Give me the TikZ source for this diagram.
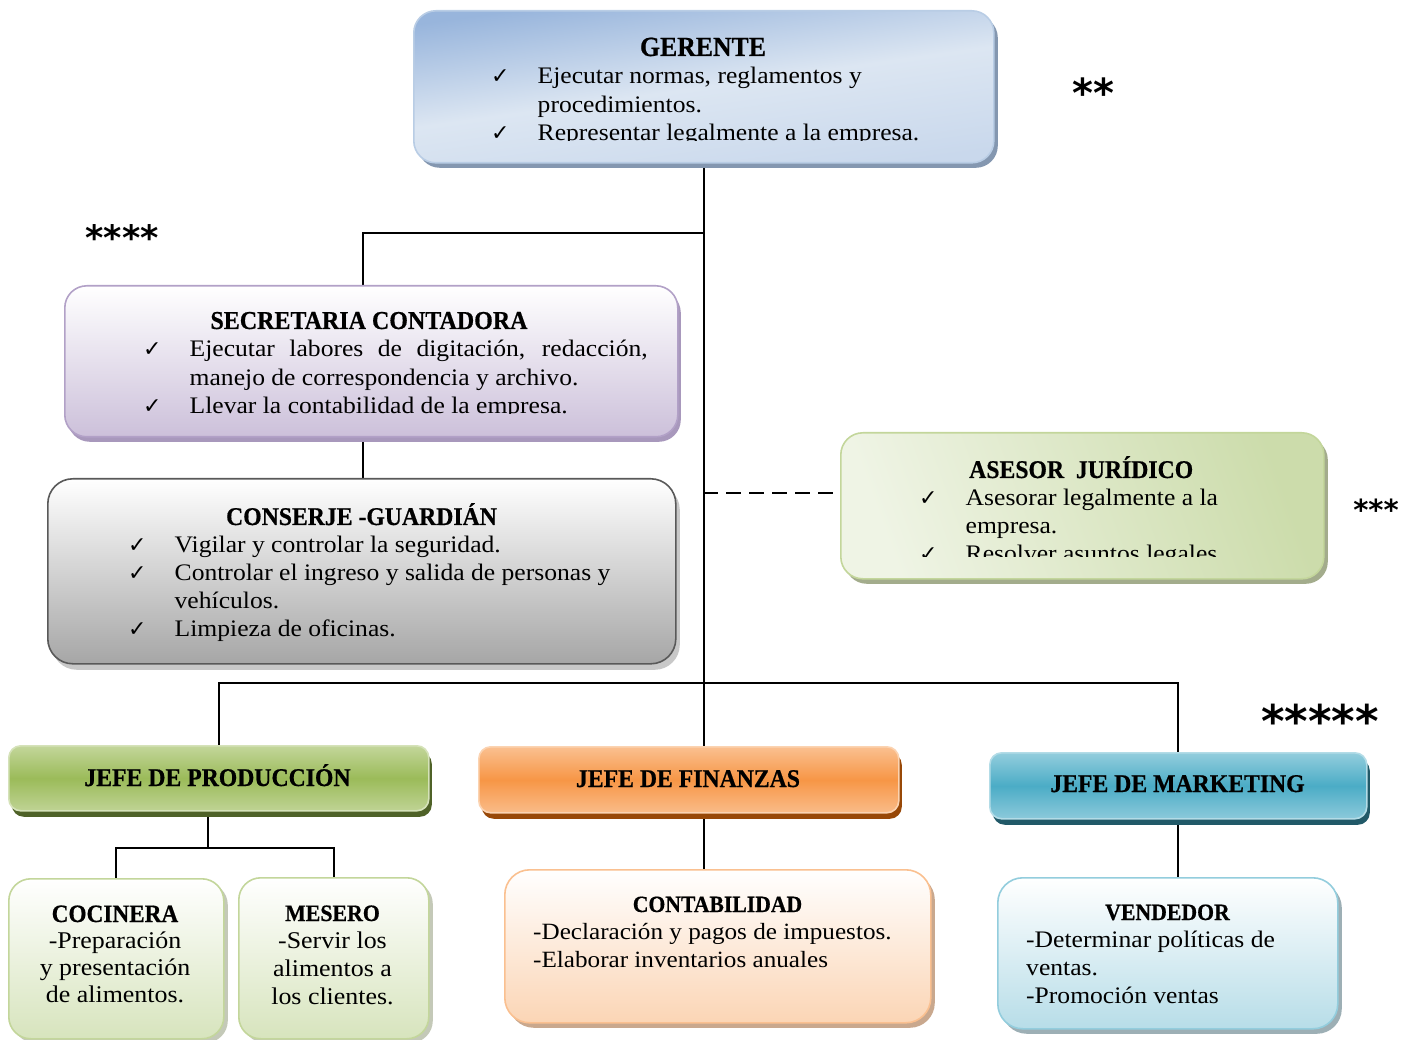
\documentclass[tikz,border=0pt]{standalone}
\usepackage{fontspec}
\setmainfont{Liberation Serif}
\newfontfamily\bodyf{Liberation Serif}[FakeStretch=1.08]
\newfontfamily\titf{Liberation Serif}[FakeStretch=0.93, FakeBold=0.6]
\newfontfamily\symf{DejaVu Sans}
\newfontfamily\astf{DejaVu Sans}
\usetikzlibrary{shadows}
\pgfdeclarelayer{bg}
\pgfsetlayers{bg,main}

% palette
\definecolor{gerTop}{HTML}{98B5DC}
\definecolor{gerMid}{HTML}{DCE6F2}
\definecolor{gerBot}{HTML}{C9D8EC}
\definecolor{gerLine}{HTML}{B9CDE5}
\definecolor{gerShd}{HTML}{8497B0}
\definecolor{secBot}{HTML}{CCC0DA}
\definecolor{secLine}{HTML}{B2A1C7}
\definecolor{secShd}{HTML}{A898BC}
\definecolor{conBot}{HTML}{A6A6A6}
\definecolor{conLine}{HTML}{595959}
\definecolor{conShd}{HTML}{C8C8C8}
\definecolor{aseL}{HTML}{EFF4E5}
\definecolor{aseR}{HTML}{CCDCAB}
\definecolor{aseLine}{HTML}{C3D69B}
\definecolor{aseShd}{HTML}{A3AC8C}
\definecolor{grnLt}{HTML}{C3D69B}
\definecolor{grnMd}{HTML}{9BBB59}
\definecolor{grnShd}{HTML}{4F6228}
\definecolor{orgLt}{HTML}{FAC090}
\definecolor{orgMd}{HTML}{F79646}
\definecolor{orgShd}{HTML}{984807}
\definecolor{bluLt}{HTML}{93CDDD}
\definecolor{bluMd}{HTML}{4BACC6}
\definecolor{bluShd}{HTML}{215968}
\definecolor{grnPale}{HTML}{D7E4BD}
\definecolor{grnPShd}{HTML}{C4C9B8}
\definecolor{orgPale}{HTML}{FBD5B5}
\definecolor{orgPShd}{HTML}{C9A88E}
\definecolor{bluPale}{HTML}{B7DDE8}
\definecolor{bluPShd}{HTML}{9DAFB5}

\newcommand\bodysize{\bodyf\fontsize{23.7}{28.3}\selectfont}
\newcommand\ckm{\makebox[46.5pt][l]{{\symf\fontsize{22}{22}\selectfont ✓}}}
\newcommand\ckind{\hspace*{46.5pt}}
\newcommand\tsz[1]{\titf\bfseries\fontsize{#1}{30}\selectfont}

\tikzset{
  card/.style={rectangle, rounded corners=#1, inner sep=0pt, anchor=north west, line width=1.6pt},
  card/.default=22pt,
  shd/.style n args={3}{drop shadow={shadow xshift=#1pt, shadow yshift=-#2pt, fill=#3, opacity=1}},
  conn/.style={line width=1.8pt, black},
  title/.style={font=\tsz{25.5}, inner sep=0pt, anchor=base},
  txt/.style={inner sep=0pt, anchor=base west},
  ast/.style={inner sep=0pt, anchor=base, font=\astf\bfseries}
}

\begin{document}
\begin{tikzpicture}[x=1pt, y=-1pt]
\useasboundingbox (0,0) rectangle (1417,1040);

% ---- boxes ----
\node[card, minimum width=580pt, minimum height=152pt, shd={4}{5}{gerShd},
      top color=gerTop, bottom color=gerBot, middle color=gerMid, shading angle=8, draw=gerLine]
      (ger) at (413,10) {};
\node[card, minimum width=613pt, minimum height=151pt, shd={3}{5}{secShd},
      top color=white, bottom color=secBot, draw=secLine]
      (sec) at (64,285) {};
\node[card=25pt, minimum width=628pt, minimum height=185pt, shd={4}{6}{conShd},
      top color=white, bottom color=conBot, draw=conLine]
      (con) at (47,478) {};
\node[card, minimum width=483pt, minimum height=146pt, shd={4}{5}{aseShd},
      left color=aseL, right color=aseR, shading angle=110, draw=aseLine]
      (ase) at (840,432) {};
\node[card=12pt, minimum width=420pt, minimum height=65pt, shd={3}{6}{grnShd},
      top color=grnLt, bottom color=grnLt!90!grnMd, middle color=grnMd, draw=grnLt!70!white]
      (prod) at (8,745) {};
\node[card=12pt, minimum width=420pt, minimum height=66pt, shd={3}{6}{orgShd},
      top color=orgLt, bottom color=orgLt!90!orgMd, middle color=orgMd, draw=orgLt!70!white]
      (fin) at (478,746) {};
\node[card=12pt, minimum width=377pt, minimum height=66pt, shd={3}{6}{bluShd},
      top color=bluLt, bottom color=bluLt!90!bluMd, middle color=bluMd, draw=bluLt!70!white]
      (mkt) at (989,752) {};
\node[card, minimum width=215pt, minimum height=160pt, shd={4}{4}{grnPShd},
      top color=white, bottom color=grnPale, draw=grnLt]
      (coc) at (8,878) {};
\node[card, minimum width=190pt, minimum height=161pt, shd={4}{4}{grnPShd},
      top color=white, bottom color=grnPale, draw=grnLt]
      (mes) at (238,877) {};
\node[card=25pt, minimum width=426pt, minimum height=153pt, shd={4}{5}{orgPShd},
      top color=white, bottom color=orgPale, draw=orgLt]
      (cont) at (504,869) {};
\node[card=25pt, minimum width=340pt, minimum height=151pt, shd={4}{5}{bluPShd},
      top color=white, bottom color=bluPale, draw=bluLt]
      (vend) at (997,877) {};

% ---- junction points ----
\coordinate (jsec) at (363,233);
\coordinate (jase) at (703,493);
\coordinate (hbar) at (0,683);
\coordinate (jprod) at (208,848);

% ---- connectors (behind the boxes) ----
\begin{pgfonlayer}{bg}
\draw[conn] (ger.south) -- (ger.south |- fin.north);
\draw[conn] (ger.south |- jsec) -- (jsec) -- (jsec |- sec.north);
\draw[conn] (jsec |- sec.south) -- (jsec |- con.north);
\draw[conn, dash pattern=on 15pt off 8pt] (jase) -- (jase -| ase.west);
\draw[conn] (prod.north) -- (prod.north |- hbar) -- (mkt.north |- hbar) -- (mkt.north);
\draw[conn] (jprod |- prod.south) -- (jprod);
\draw[conn] (coc.north) -- (coc.north |- jprod) -- (mes.north |- jprod) -- (mes.north);
\draw[conn] (ger.south |- fin.south) -- (ger.south |- cont.north);
\draw[conn] (mkt.south) -- (mkt.south |- vend.north);
\end{pgfonlayer}

% ---- GERENTE ----
\node[title, font=\tsz{27.7}] (tger) at (703,56) {GERENTE};
\begin{scope}
\clip (413,10) rectangle (993,141);
\node[txt] (lger) at (491,84) {\parbox[t]{500pt}{\bodysize
  \ckm Ejecutar normas, reglamentos y\\
  \ckind procedimientos.\\
  \ckm Representar legalmente a la empresa.}};
\end{scope}

% ---- SECRETARIA CONTADORA ----
\node[title, font=\tsz{25.8}] (tsec) at (369,329) {SECRETARIA CONTADORA};
\begin{scope}
\clip (64,285) rectangle (677,414);
\node[txt] (lsec) at (143,357) {\parbox[t]{560pt}{\bodysize
  \ckm\makebox[458pt][s]{Ejecutar labores de digitación, redacción,}\\
  \ckind manejo de correspondencia y archivo.\\
  \ckm Llevar la contabilidad de la empresa.}};
\end{scope}

% ---- CONSERJE - GUARDIÁN ----
\node[title] (tcon) at (361.5,525) {CONSERJE -GUARDIÁN};
\node[txt] (lcon) at (128,552) {\parbox[t]{560pt}{\bodysize
  \ckm Vigilar y controlar la seguridad.\\
  \ckm Controlar el ingreso y salida de personas y\\
  \ckind vehículos.\\
  \ckm Limpieza de oficinas.}};

% ---- ASESOR JURÍDICO ----
\node[title, anchor=base west] (tase) at (969,478) {ASESOR\ \ JURÍDICO};
\begin{scope}
\clip (840,432) rectangle (1323,556);
\node[txt] (lase) at (919,505) {\parbox[t]{400pt}{\bodysize
  \ckm Asesorar legalmente a la\\
  \ckind empresa.\\
  \ckm Resolver asuntos legales}};
\end{scope}

% ---- department heads ----
\node[title] (tprod) at (217.5,786) {JEFE DE PRODUCCIÓN};
\node[title] (tfin) at (688,787) {JEFE DE FINANZAS};
\node[title] (tmkt) at (1177.5,792) {JEFE DE MARKETING};

% ---- COCINERA / MESERO ----
\node[title, font=\tsz{25}] (tcoc) at (115,922) {COCINERA};
\node[inner sep=0pt, anchor=base] (lcoc) at (115,948) {\parbox[t]{210pt}{\centering
  \bodyf\fontsize{24}{27}\selectfont -Preparación\\ y presentación\\ de alimentos.}};
\node[title, font=\tsz{23.5}] (tmes) at (332.5,921) {MESERO};
\node[inner sep=0pt, anchor=base] (lmes) at (332.5,948) {\parbox[t]{185pt}{\centering
  \bodyf\fontsize{24}{28}\selectfont -Servir los\\ alimentos a\\ los clientes.}};

% ---- CONTABILIDAD ----
\node[title, font=\tsz{23.3}] (tcont) at (717.5,912) {CONTABILIDAD};
\node[txt] (lcont) at (533,939) {\parbox[t]{390pt}{\bodyf\fontsize{23.3}{28}\selectfont
  -Declaración y pagos de impuestos.\\
  -Elaborar inventarios anuales}};

% ---- VENDEDOR ----
\node[title, font=\tsz{23.4}] (tvend) at (1167.5,920) {VENDEDOR};
\node[txt] (lvend) at (1026,947) {\parbox[t]{300pt}{\bodyf\fontsize{23.7}{28}\selectfont
  -Determinar políticas de\\
  ventas.\\
  -Promoción ventas}};

% ---- asterisks ----
\node[ast, font=\astf\bfseries\fontsize{40}{40}\selectfont] (a2) at (1093,108) {**};
\node[ast, font=\astf\bfseries\fontsize{35}{35}\selectfont] (a4) at (122,251) {****};
\node[ast, font=\astf\bfseries\fontsize{29}{29}\selectfont] (a3) at (1376,520) {***};
\node[ast, font=\astf\bfseries\fontsize{45}{45}\selectfont] (a5) at (1320,737) {*****};
\end{tikzpicture}
\end{document}
